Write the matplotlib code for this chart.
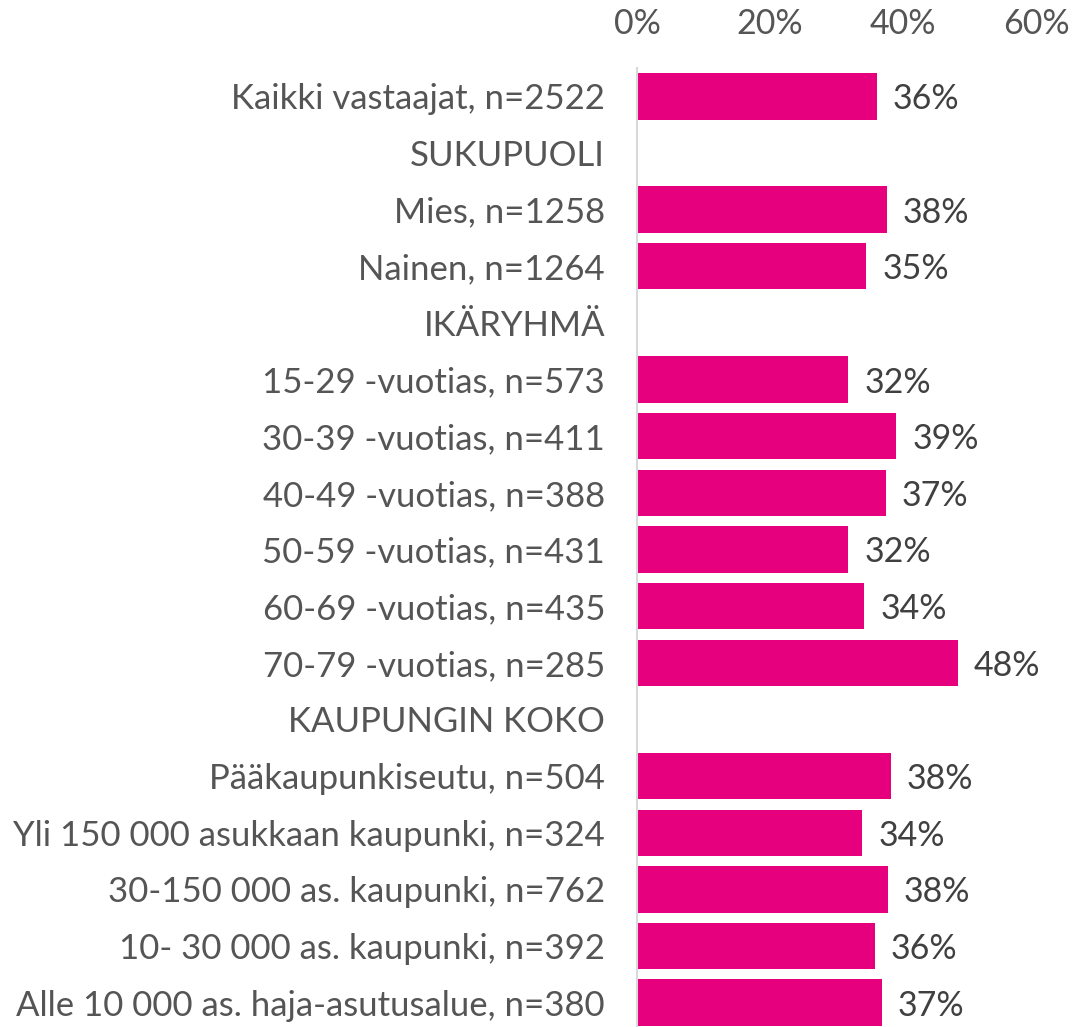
import numpy as np
import matplotlib.pyplot as plt

# ------------------------------------------------------------
# Data
labels = ["Kaikki vastaajat, n=2522", "SUKUPUOLI", "Mies, n=1258", "Nainen, n=1264",
          "IKÄRYHMÄ", "15-29 -vuotias, n=573", "30-39 -vuotias, n=411",
          "40-49 -vuotias, n=388", "50-59 -vuotias, n=431", "60-69 -vuotias, n=435",
          "70-79 -vuotias, n=285", "KAUPUNGIN KOKO", "Pääkaupunkiseutu, n=504",
          "Yli 150 000 asukkaan kaupunki, n=324", "30-150 000 as. kaupunki, n=762",
          "10- 30 000 as. kaupunki, n=392", "Alle 10 000 as. haja-asutusalue, n=380"]
values = [36, None, 38, 35, None, 32, 39, 37, 32, 34, 48, None, 38, 34, 38, 36, 37]
# exact bar lengths (slightly different from rounded labels)
bar_len = [36.1, None, 37.6, 34.5, None, 31.8, 39.0, 37.4, 31.8, 34.2, 48.2, None,
           38.2, 33.9, 37.7, 35.8, 36.8]
ticks = [0, 20, 40, 60]
# ------------------------------------------------------------

pink = '#E6007E'
lab_col = '#555555'
val_col = '#404040'
plt.rcParams['font.family'] = ['Lato', 'DejaVu Sans']

fig = plt.figure(figsize=(10.79, 10.27), dpi=100)
ax = fig.add_axes([637 / 1079, -4 / 1027, 399 / 1079, (1027 - 64) / 1027])

y = np.arange(len(labels))
for i, v in enumerate(bar_len):
    if v is None:
        continue
    ax.barh(i, v, height=0.82, color=pink)
    ax.text(v + 2.4, i, f"{values[i]}%", va='center_baseline', ha='left',
            fontsize=24.5, color=val_col)

ax.set_ylim(len(labels) - 0.5, -0.5)
ax.set_xlim(0, 60)
ax.set_yticks(y)
ax.set_yticklabels(labels, fontsize=25, color=lab_col, va='center_baseline')
ax.set_xticks(ticks)
ax.set_xticklabels([f"{t}%" for t in ticks], fontsize=24.5, color=lab_col)
ax.xaxis.tick_top()
ax.tick_params(axis='both', length=0)
ax.tick_params(axis='x', pad=20)
ax.tick_params(axis='y', pad=23)
for s in ['top', 'right', 'bottom']:
    ax.spines[s].set_visible(False)
ax.spines['left'].set_color('#d9d9d9')
ax.spines['left'].set_linewidth(1.5)

fig.savefig('out.png', dpi=100)
